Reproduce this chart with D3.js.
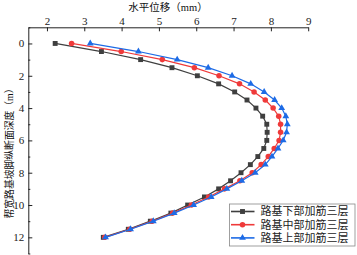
<!DOCTYPE html>
<html>
<head>
<meta charset="utf-8">
<script src="https://cdn.jsdelivr.net/npm/d3@7"></script>
<style>
  body { margin: 0; background: #fff; }
  svg { display: block; }
</style>
</head>
<body>
<div id="chart"></div>
<script>
// depth points (m), every 0.5 m
const depths = d3.range(0, 12.01, 0.5);

// horizontal displacement (mm) per series
const lowerLayer = [2.22, 3.46, 4.51, 5.35, 6.03, 6.60, 7.03, 7.36, 7.60, 7.78, 7.89, 7.90, 7.89,
  7.81, 7.65, 7.45, 7.20, 6.92, 6.60, 6.22, 5.77, 5.32, 4.77, 4.18, 3.51];
const middleLayer = [2.66, 3.99, 5.09, 5.95, 6.61, 7.16, 7.55, 7.85, 8.06, 8.21, 8.26, 8.26, 8.22,
  8.09, 7.93, 7.74, 7.50, 7.17, 6.76, 6.33, 5.87, 5.37, 4.82, 4.22, 3.55];
const upperLayer = [3.16, 4.45, 5.49, 6.32, 6.96, 7.46, 7.82, 8.10, 8.29, 8.40, 8.44, 8.42, 8.33,
  8.19, 8.03, 7.85, 7.58, 7.22, 6.82, 6.40, 5.93, 5.41, 4.85, 4.24, 3.57];

const seriesNames = ["路基下部加筋三层", "路基中部加筋三层", "路基上部加筋三层"];
const xTicks = [2, 3, 4, 5, 6, 7, 8, 9];
const yTicks = [0, 2, 4, 6, 8, 10, 12];
const yMinorTicks = [-1, 1, 3, 5, 7, 9, 11, 13];

const W = 357, H = 255;
const svg = d3.select("#chart").append("svg")
  .attr("width", W)
  .attr("height", H);

const x = d3.scaleLinear().domain([1.5, 9]).range([28.3, 308.2]);
const y = d3.scaleLinear().domain([-1, 13]).range([27.3, 253.5]);

const serif = "'Liberation Serif', 'Times New Roman', serif";
// latin serif first, CJK glyphs fall back to Noto
const cjk = "'Liberation Serif', 'Noto Sans CJK SC', sans-serif";

// top axis, ticks inside
const xAxis = svg.append("g")
  .attr("transform", `translate(0,${y(-1)})`)
  .call(d3.axisTop(x).tickValues(xTicks).tickFormat(d3.format("d"))
    .tickSizeInner(-4).tickSizeOuter(0).tickPadding(2));
xAxis.selectAll("text").style("font-family", serif).style("font-size", "11px").attr("fill", "#222");

// left axis, ticks inside
const yAxis = svg.append("g")
  .attr("transform", `translate(${x(1.5)},0)`)
  .call(d3.axisLeft(y).tickValues(yTicks).tickFormat(d3.format("d"))
    .tickSizeInner(-4).tickSizeOuter(0).tickPadding(4));
yAxis.selectAll("text").style("font-family", serif).style("font-size", "11px").attr("fill", "#222");

svg.append("g")
  .attr("transform", `translate(${x(1.5)},0)`)
  .call(d3.axisLeft(y).tickValues(yMinorTicks).tickFormat("").tickSizeInner(-2).tickSizeOuter(0))
  .select(".domain").remove();

svg.selectAll(".domain, .tick line").attr("stroke", "#222").attr("stroke-width", 1);

// axis titles
svg.append("text")
  .attr("x", 168)
  .attr("y", 10.5)
  .attr("text-anchor", "middle")
  .style("font-family", cjk)
  .style("font-size", "10.5px")
  .attr("fill", "#111")
  .text("水平位移（mm）");

svg.append("text")
  .attr("transform", "rotate(-90)")
  .attr("x", -151)
  .attr("y", 12.5)
  .attr("text-anchor", "middle")
  .style("font-family", cjk)
  .style("font-size", "9.8px")
  .attr("fill", "#111")
  .text("帮宽路基坡脚纵断面深度（m）");

const series = [
  { name: seriesNames[0], values: lowerLayer, color: "#3f3f3f", symbol: d3.symbolSquare, size: 24 },
  { name: seriesNames[1], values: middleLayer, color: "#ef3a3a", symbol: d3.symbolCircle, size: 24 },
  { name: seriesNames[2], values: upperLayer, color: "#1d6be6", symbol: d3.symbolTriangle, size: 20 }
];

const line = d3.line()
  .x(d => x(d.v))
  .y(d => y(d.depth));

series.forEach(s => {
  const pts = s.values.map((v, i) => ({ v: v, depth: depths[i] }));
  svg.append("path")
    .datum(pts)
    .attr("d", line)
    .attr("fill", "none")
    .attr("stroke", s.color)
    .attr("stroke-width", 1.2);

  svg.append("g").selectAll("path")
    .data(pts)
    .enter().append("path")
    .attr("d", d3.symbol().type(s.symbol).size(s.size))
    .attr("transform", d => `translate(${x(d.v)},${y(d.depth)})`)
    .attr("fill", s.color);
});

// Legend
const legend = svg.append("g").attr("transform", "translate(229.5,204)");
legend.append("rect")
  .attr("width", 125.5)
  .attr("height", 42)
  .attr("fill", "#fff")
  .attr("stroke", "#888")
  .attr("stroke-width", 0.8);

series.forEach((s, i) => {
  const ly = 7.5 + i * 13.2;
  legend.append("line")
    .attr("x1", 1.5).attr("x2", 25)
    .attr("y1", ly).attr("y2", ly)
    .attr("stroke", s.color)
    .attr("stroke-width", 1.6);
  legend.append("path")
    .attr("d", d3.symbol().type(s.symbol).size(s.size))
    .attr("transform", `translate(13,${ly})`)
    .attr("fill", s.color);
  legend.append("text")
    .attr("x", 31)
    .attr("y", ly + 3.8)
    .style("font-family", cjk)
    .style("font-size", "11px")
    .attr("fill", "#222")
    .text(s.name);
});
</script>
</body>
</html>
